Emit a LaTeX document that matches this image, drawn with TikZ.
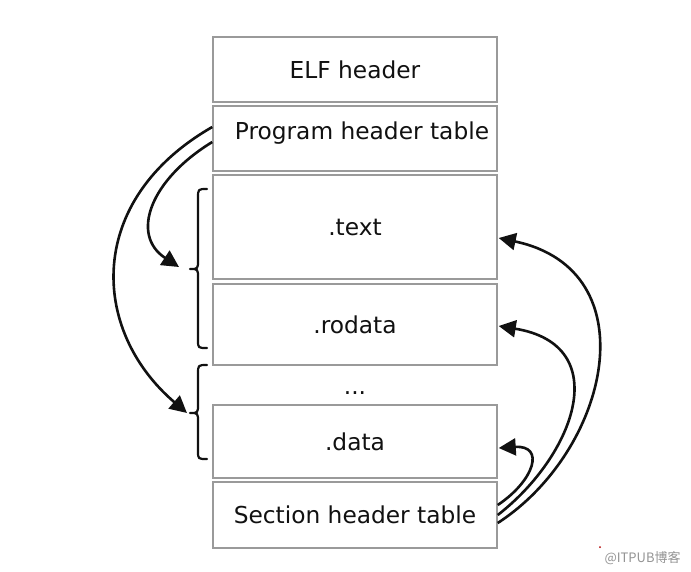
\documentclass[tikz,border=0pt]{standalone}
\usepackage{fontspec}
\setmainfont{DejaVu Sans}
\newfontfamily\cjkfont{Noto Sans CJK SC}
\usetikzlibrary{arrows.meta}
\definecolor{boxgray}{HTML}{9A9A9A}
\definecolor{ink}{HTML}{111111}
\tikzset{
  seg/.style={draw=boxgray, line width=1.5pt, fill=white, minimum width=284pt, inner sep=0pt, font=\fontsize{23.3}{27}\selectfont, text=ink},
  link/.style={line width=2.6pt, draw=ink, -{Triangle[length=17pt,width=17pt]}},
  bracepath/.style={line width=2.2pt, draw=ink, line cap=round, line join=round},
  wmark/.style={font=\cjkfont\fontsize{13}{15}\selectfont, text=black!42}
}
\begin{document}
\begin{tikzpicture}[x=1pt,y=-1pt]
\useasboundingbox[fill=white] (0,0) rectangle (691,571);
% segments
\node[seg, minimum height=65pt]  (elf)  at (355,69.5)  {ELF header};
\node[seg, minimum height=65pt]  (pht)  at (355,138.5) {};
\node[font=\fontsize{23.3}{27}\selectfont, text=ink] (phtl) at (362,133.5) {Program header table};
\node[seg, minimum height=104pt] (text) at (355,227)   {.text};
\node[seg, minimum height=81pt]  (ro)   at (355,324.5) {.rodata};
\node[font=\fontsize{23.3}{27}\selectfont, text=ink, anchor=base] (dots) at (355,394) {...};
\node[seg, minimum height=73pt]  (data) at (355,441.5) {.data};
\node[seg, minimum height=66pt]  (sht)  at (355,515)   {Section header table};
% brace tips
\coordinate (b1) at (190,269);
\coordinate (b2) at (190,413);
% braces
\draw[bracepath] (207,189) .. controls (198,189) .. (198,198) -- (198,260)
  .. controls (198,269) .. (190,269) .. controls (198,269) .. (198,278)
  -- (198,340) .. controls (198,348) .. (207,348);
\draw[bracepath] (207,365) .. controls (198,365) .. (198,374) -- (198,404)
  .. controls (198,413) .. (190,413) .. controls (198,413) .. (198,422)
  -- (198,451) .. controls (198,459) .. (207,459);
% program header arrows
\draw[link] ([yshift=11.5pt]pht.west) .. controls (85,200) and (90,330) .. ([xshift=-3pt]b2);
\draw[link] ([yshift=-3.5pt]pht.west) .. controls (150,180) and (130,235) .. ([xshift=-11pt,yshift=2pt]b1);
% section header arrows
\draw[link] ([yshift=-8pt]sht.east) .. controls (610,450) and (650,270) .. ([xshift=1pt,yshift=-11pt]text.east);
\draw[link] ([yshift=0pt]sht.east) .. controls (575,455) and (615,345) .. ([xshift=1pt,yshift=-1.5pt]ro.east);
\draw[link] ([yshift=10pt]sht.east) .. controls (535,480) and (545,445) .. ([xshift=1pt,yshift=-6.5pt]data.east);
% watermark
\node[wmark, anchor=west] (wm) at (601,558) {@ITPUB博客};
\fill[red!70!black] (600,547) circle (1pt);
\end{tikzpicture}
\end{document}
